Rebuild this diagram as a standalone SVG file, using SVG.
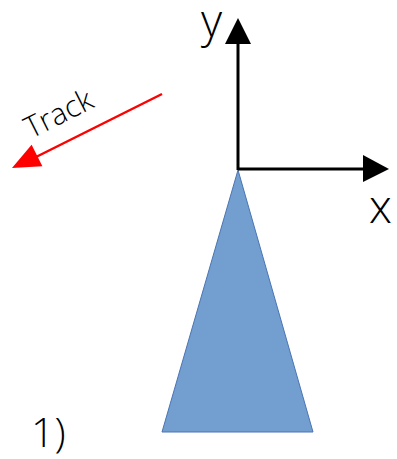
<svg xmlns="http://www.w3.org/2000/svg" width="397" height="459" viewBox="0 0 397 459">
<style>
.lbl{font-family:"Open Sans","Noto Sans","Liberation Sans",sans-serif;font-weight:300;fill:#000}
.ax{stroke:#000;stroke-width:3;fill:none}
</style>
<rect width="397" height="459" fill="#fff"/>
<g id="triangle">
<polygon points="238,170 313,432 162,432" fill="#729fcf" stroke="#4a74b4" stroke-width="1"/>
</g>
<g id="connectors">
<g id="y-axis">
<line class="ax" x1="238" y1="170" x2="238" y2="40"/>
<polygon points="238,18 251,44 225,44" fill="#000"/>
</g>
<g id="x-axis">
<line class="ax" x1="238" y1="169" x2="366" y2="169"/>
<polygon points="389,169 363,155 363,182" fill="#000"/>
</g>
<g id="track-arrow">
<line x1="162" y1="94" x2="34" y2="158" stroke="#ff0000" stroke-width="2.5"/>
<polygon points="12,168 31.6,144.8 42.4,166.2" fill="#ff0000"/>
</g>
</g>
<g id="labels">
<text class="lbl" x="201" y="37" font-size="46">y</text>
<text class="lbl" x="369" y="223" font-size="46">x</text>
<text class="lbl" x="31" y="447" font-size="41">1)</text>
<text class="lbl" font-size="30" transform="translate(31,139) rotate(-26.6)">Track</text>
</g>
</svg>
